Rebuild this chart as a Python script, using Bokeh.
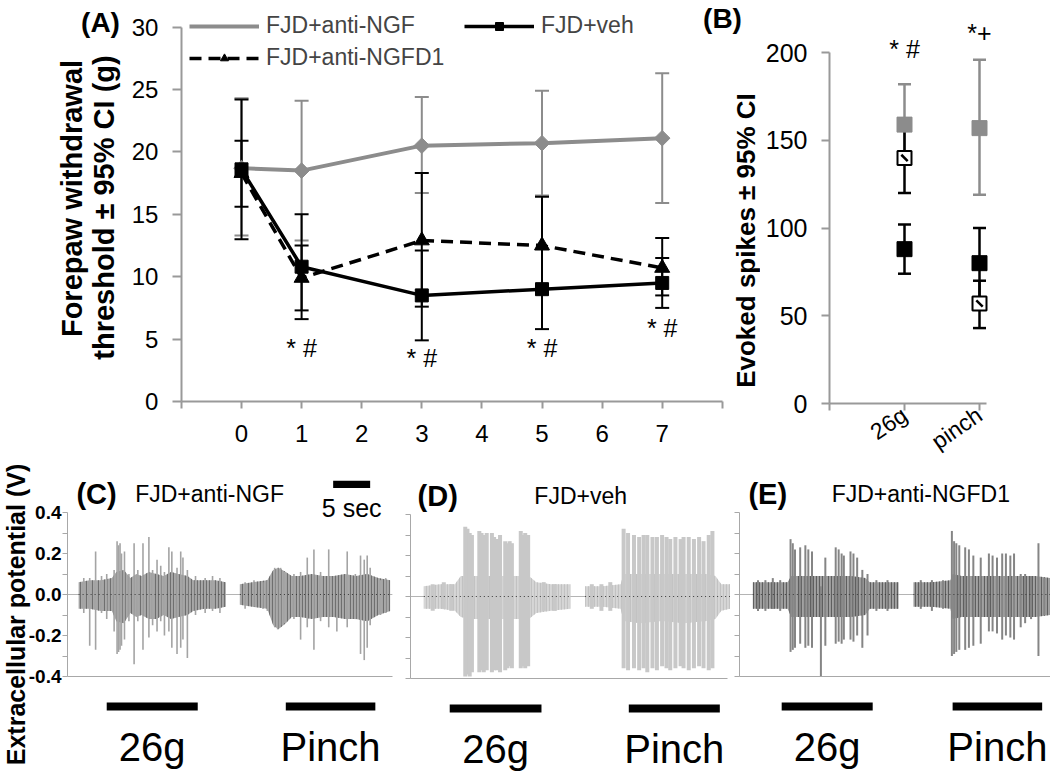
import math
from bokeh.plotting import figure
from bokeh.models import (ColumnDataSource, Whisker, TeeHead, Legend, LegendItem,
                          FixedTicker, Range1d, NumeralTickFormatter)
from bokeh.layouts import column, row
from bokeh.embed import file_html
from bokeh.resources import INLINE
from bokeh.core.properties import value

FONT = "Liberation Sans"
GRAY = "#8c8c8c"
AXC = "#999999"

# ---------------- Panel A data ----------------
days = [0, 1, 3, 5, 7]
ngf_mean = [18.7, 18.5, 20.5, 20.7, 21.1]
ngf_lo = [13.3, 12.9, 16.7, 16.5, 15.9]
ngf_hi = [24.3, 24.1, 24.4, 24.9, 26.3]
veh_mean = [18.6, 10.8, 8.5, 9.0, 9.5]
veh_lo = [13.0, 6.6, 4.9, 5.8, 7.5]
veh_hi = [24.2, 15.0, 12.1, 12.2, 11.5]
d1_mean = [18.3, 9.9, 12.9, 12.5, 10.7]
d1_lo = [15.6, 7.3, 7.6, 8.6, 8.5]
d1_hi = [20.9, 12.5, 18.3, 16.4, 13.1]
a_sig_x = [1, 3, 5, 7]
a_sig_y = [4.3, 3.5, 4.3, 5.9]
a_sig_text = ["* #", "* #", "* #", "* #"]
a_xticks = [0, 1, 2, 3, 4, 5, 6, 7]
a_xlabels = ["0", "1", "2", "3", "4", "5", "6", "7"]
a_xedge_ticks = [-1, 8]
a_yticks = [0, 5, 10, 15, 20, 25, 30]

# ---------------- Panel B data ----------------
b_cats = ["26g", "pinch"]
b_x = [1, 2]
b_ngf = [159, 157]
b_ngf_lo = [137, 119]
b_ngf_hi = [182, 196]
b_veh = [88, 80]
b_veh_lo = [74, 60]
b_veh_hi = [102, 100]
b_d1 = [140, 57]
b_d1_lo = [120, 43]
b_d1_hi = [160, 70]
b_sig_text = ["* #", "*+"]
b_sig_y = [202, 211]
b_yticks = [0, 50, 100, 150, 200]

# ---------------- Panels C-E traces (time s, potential V) ----------------
c26_env_t = [1.5, 3.0, 4.5, 6.0, 6.6, 7.6, 8.5, 9.3, 10.0, 11.0, 12.0, 13.0, 14.0, 15.0, 16.2, 17.0, 18.5, 20.0, 21.4]
c26_env_hi = [0.06, 0.07, 0.07, 0.08, 0.11, 0.12, 0.08, 0.10, 0.09, 0.11, 0.10, 0.09, 0.11, 0.10, 0.09, 0.07, 0.07, 0.07, 0.06]
c26_env_lo = [-0.07, -0.07, -0.08, -0.08, -0.13, -0.14, -0.09, -0.11, -0.10, -0.12, -0.12, -0.10, -0.12, -0.11, -0.10, -0.08, -0.07, -0.07, -0.06]
c26_sp_t = [2.2, 3.0, 3.8, 4.6, 5.3, 6.3, 6.7, 6.9, 7.1, 7.3, 7.7, 8.3, 9.0, 9.5, 10.2, 11.0, 11.5, 12.1, 12.6, 13.1, 13.7, 14.1, 14.8, 15.3, 15.6, 16.2, 17.3, 18.6, 19.6, 20.6]
c26_sp_hi = [0.08, 0.08, 0.21, 0.09, 0.10, 0.12, 0.26, 0.24, 0.25, 0.20, 0.21, 0.10, 0.25, 0.12, 0.25, 0.28, 0.12, 0.17, 0.14, 0.11, 0.23, 0.21, 0.13, 0.21, 0.18, 0.12, 0.09, 0.08, 0.09, 0.08]
c26_sp_lo = [-0.09, -0.25, -0.27, -0.09, -0.12, -0.18, -0.29, -0.28, -0.27, -0.25, -0.22, -0.13, -0.34, -0.13, -0.27, -0.21, -0.15, -0.18, -0.13, -0.20, -0.18, -0.26, -0.29, -0.26, -0.22, -0.31, -0.10, -0.09, -0.08, -0.09]

cp_env_t = [23.3, 25.0, 27.0, 27.8, 28.5, 29.5, 30.3, 31.5, 33.0, 34.5, 36.0, 37.5, 39.0, 40.5, 42.0, 43.6]
cp_env_hi = [0.05, 0.06, 0.07, 0.12, 0.13, 0.11, 0.09, 0.09, 0.10, 0.09, 0.09, 0.10, 0.09, 0.10, 0.08, 0.07]
cp_env_lo = [-0.05, -0.06, -0.07, -0.15, -0.17, -0.14, -0.11, -0.11, -0.12, -0.11, -0.11, -0.12, -0.12, -0.13, -0.10, -0.08]
cp_sp_t = [24.0, 25.2, 26.4, 27.0, 28.0, 28.4, 28.8, 29.3, 30.6, 31.5, 32.4, 33.3, 34.2, 35.3, 36.4, 37.8, 38.9, 39.6, 40.1, 40.5, 40.9, 42.3, 43.0]
cp_sp_hi = [0.06, 0.07, 0.06, 0.07, 0.13, 0.13, 0.13, 0.11, 0.10, 0.11, 0.18, 0.22, 0.11, 0.22, 0.09, 0.21, 0.10, 0.19, 0.17, 0.19, 0.13, 0.07, 0.08]
cp_sp_lo = [-0.07, -0.06, -0.07, -0.08, -0.16, -0.17, -0.15, -0.14, -0.12, -0.22, -0.16, -0.27, -0.13, -0.16, -0.18, -0.16, -0.12, -0.29, -0.32, -0.26, -0.15, -0.10, -0.09]

d26_env_t = [1.8, 4.0, 6.0, 6.8, 8.0, 10.0, 12.0, 14.0, 16.0, 17.0, 19.0, 21.6]
d26_env_hi = [0.05, 0.06, 0.06, 0.10, 0.10, 0.10, 0.10, 0.10, 0.10, 0.07, 0.06, 0.06]
d26_env_lo = [-0.06, -0.06, -0.07, -0.10, -0.11, -0.11, -0.11, -0.11, -0.11, -0.08, -0.07, -0.06]
d26_sp_t = [3.0, 4.5, 5.5, 7.4, 7.7, 8.0, 8.3, 9.3, 9.6, 9.9, 10.3, 11.0, 11.3, 11.7, 12.1, 12.8, 13.1, 13.4, 13.7, 14.9, 15.2, 15.5, 15.9, 18.0, 19.5]
d26_sp_hi = [0.06, 0.07, 0.06, 0.34, 0.33, 0.31, 0.30, 0.32, 0.31, 0.30, 0.31, 0.31, 0.29, 0.28, 0.30, 0.27, 0.26, 0.27, 0.26, 0.32, 0.30, 0.31, 0.30, 0.07, 0.06]
d26_sp_lo = [-0.07, -0.06, -0.07, -0.39, -0.38, -0.39, -0.37, -0.37, -0.36, -0.37, -0.36, -0.37, -0.36, -0.36, -0.37, -0.36, -0.35, -0.34, -0.35, -0.35, -0.34, -0.35, -0.34, -0.07, -0.07]

dp_env_t = [23.6, 26.0, 28.4, 28.8, 31.0, 34.0, 37.0, 40.0, 41.2, 42.0, 43.2]
dp_env_hi = [0.05, 0.05, 0.06, 0.11, 0.11, 0.11, 0.11, 0.11, 0.10, 0.06, 0.06]
dp_env_lo = [-0.05, -0.05, -0.06, -0.12, -0.13, -0.12, -0.13, -0.12, -0.11, -0.07, -0.06]
dp_sp_t = [24.5, 25.8, 27.0, 28.8, 29.4, 30.2, 30.9, 31.5, 32.0, 32.7, 33.3, 34.0, 34.6, 35.1, 35.8, 36.5, 36.9, 37.6, 38.3, 39.0, 39.6, 40.3, 40.8]
dp_sp_hi = [0.06, 0.06, 0.07, 0.33, 0.31, 0.30, 0.29, 0.30, 0.30, 0.29, 0.29, 0.30, 0.29, 0.28, 0.29, 0.28, 0.29, 0.29, 0.28, 0.29, 0.27, 0.30, 0.32]
dp_sp_lo = [-0.06, -0.07, -0.07, -0.35, -0.36, -0.35, -0.36, -0.35, -0.37, -0.35, -0.36, -0.34, -0.35, -0.36, -0.35, -0.34, -0.35, -0.36, -0.35, -0.34, -0.35, -0.36, -0.35]

e26_env_t = [1.8, 4.0, 6.5, 7.0, 9.0, 11.0, 13.0, 15.0, 17.0, 17.6, 19.5, 21.5]
e26_env_hi = [0.06, 0.06, 0.06, 0.09, 0.09, 0.09, 0.09, 0.09, 0.08, 0.06, 0.06, 0.06]
e26_env_lo = [-0.07, -0.07, -0.07, -0.11, -0.11, -0.11, -0.11, -0.11, -0.10, -0.07, -0.07, -0.07]
e26_sp_t = [2.5, 3.5, 4.5, 5.5, 6.9, 7.2, 7.5, 8.2, 8.9, 9.3, 9.8, 11.0, 11.6, 13.0, 13.4, 13.8, 14.1, 15.0, 15.4, 15.9, 16.6, 17.3, 18.5, 20.0]
e26_sp_hi = [0.07, 0.07, 0.08, 0.07, 0.27, 0.25, 0.22, 0.23, 0.24, 0.22, 0.21, 0.04, 0.18, 0.23, 0.22, 0.20, 0.19, 0.21, 0.20, 0.18, 0.12, 0.10, 0.07, 0.07]
e26_sp_lo = [-0.08, -0.08, -0.07, -0.08, -0.28, -0.27, -0.26, -0.24, -0.26, -0.25, -0.26, -0.40, -0.25, -0.24, -0.23, -0.24, -0.22, -0.22, -0.23, -0.20, -0.26, -0.20, -0.08, -0.08]

ep_env_t = [23.5, 26.0, 28.5, 28.8, 30.0, 32.0, 34.0, 36.0, 38.0, 40.0, 42.0]
ep_env_hi = [0.06, 0.06, 0.07, 0.10, 0.09, 0.09, 0.09, 0.09, 0.09, 0.09, 0.08]
ep_env_lo = [-0.06, -0.06, -0.07, -0.12, -0.11, -0.11, -0.11, -0.11, -0.11, -0.11, -0.10]
ep_sp_t = [24.5, 26.0, 27.5, 28.7, 29.0, 29.3, 29.7, 30.5, 31.0, 31.6, 32.6, 33.7, 34.2, 34.8, 35.5, 36.0, 36.6, 37.1, 38.0, 38.6, 39.4, 40.4, 41.2]
ep_sp_hi = [0.07, 0.07, 0.07, 0.31, 0.26, 0.25, 0.24, 0.23, 0.22, 0.19, 0.18, 0.20, 0.19, 0.18, 0.20, 0.20, 0.19, 0.20, 0.10, 0.10, 0.09, 0.25, 0.08]
ep_sp_lo = [-0.07, -0.08, -0.07, -0.30, -0.29, -0.28, -0.27, -0.27, -0.26, -0.25, -0.24, -0.18, -0.18, -0.19, -0.22, -0.20, -0.21, -0.22, -0.16, -0.14, -0.12, -0.30, -0.10]

stim_labels = ["26g", "Pinch"]
c_stim_start = [5.3, 29.5]
c_stim_end = [17.6, 41.6]
d_stim_start = [5.3, 29.5]
d_stim_end = [17.7, 41.8]
e_stim_start = [5.7, 28.8]
e_stim_end = [18.0, 40.9]
scale_bar_start = [35.9]
scale_bar_end = [40.9]
scale_bar_text = ["5 sec"]
trace_yticks = [-0.4, -0.2, 0.0, 0.2, 0.4]
trace_yminor = [-0.3, -0.1, 0.1, 0.3]


# ---------------- helpers ----------------
def full_frame_fig(width, height, left_px, top_px, x0_px, x_scale, y0_px, y_scale):
    """Figure whose plot frame fills its canvas; ranges chosen from the page geometry."""
    xr = Range1d((left_px - x0_px) / x_scale, (left_px + width - x0_px) / x_scale)
    yr = Range1d((y0_px - (top_px + height)) / y_scale, (y0_px - top_px) / y_scale)
    p = figure(width=width, height=height, x_range=xr, y_range=yr, output_backend="svg",
               toolbar_location=None, title=None, min_border=0, min_border_left=0,
               min_border_right=0, min_border_top=0, min_border_bottom=0)
    p.grid.visible = False
    p.outline_line_color = None
    return p


def style_ax(ax, size, tick_out):
    ax.axis_line_color = AXC
    ax.axis_line_width = 2
    ax.major_tick_line_color = AXC
    ax.major_tick_line_width = 2
    ax.minor_tick_line_color = AXC
    ax.minor_tick_line_width = 2
    ax.major_tick_in = 0
    ax.minor_tick_in = 0
    ax.major_tick_out = tick_out
    ax.minor_tick_out = tick_out
    ax.major_label_text_font = FONT
    ax.major_label_text_font_size = size
    ax.major_label_text_color = "black"


def add_whisker(p, xs, lo, hi, color, width, head):
    src = ColumnDataSource(dict(x=xs, lo=lo, hi=hi))
    w = Whisker(base="x", lower="lo", upper="hi", source=src, line_color=color, line_width=width,
                upper_head=TeeHead(size=head, line_color=color, line_width=width),
                lower_head=TeeHead(size=head, line_color=color, line_width=width))
    p.add_layout(w)


def txt(p, x, y, s, size, bold=False, angle=0.0, align="center", baseline="middle"):
    p.text(x=[x], y=[y], text=[s], text_font=value(FONT), text_font_size=size,
           text_font_style="bold" if bold else "normal", angle=angle,
           text_align=align, text_baseline=baseline, text_color="black")


# ====================== Panel A ======================
AX0, AXS, AY0, AYS = 241.0, 60.1, 401.0, 12.48
pA = full_frame_fig(760, 458, 0, 0, AX0, AXS, AY0, AYS)
style_ax(pA.xaxis[0], "24px", 7)
style_ax(pA.yaxis[0], "24px", 9)
pA.yaxis.fixed_location = -1
pA.yaxis.ticker = FixedTicker(ticks=a_yticks, minor_ticks=[])
pA.yaxis.bounds = (0, 30)
pA.yaxis.major_label_standoff = 14
pA.xaxis.fixed_location = 0
pA.xaxis.bounds = (-1, 8)
pA.xaxis.ticker = FixedTicker(ticks=a_xticks, minor_ticks=a_xedge_ticks)
pA.xaxis.major_label_overrides = {t: l for t, l in zip(a_xticks, a_xlabels)}
pA.xaxis.major_label_standoff = 16

add_whisker(pA, days, ngf_lo, ngf_hi, GRAY, 2, 14)
add_whisker(pA, days, d1_lo, d1_hi, "black", 2, 14)
add_whisker(pA, days, veh_lo, veh_hi, "black", 2, 14)

l_ngf = pA.line(days, ngf_mean, line_color=GRAY, line_width=4)
pA.scatter(days, ngf_mean, marker="square", angle=math.pi / 4, size=11, fill_color=GRAY, line_color=GRAY)
m_ngf_leg = pA.scatter(x=[], y=[], marker="diamond", size=18, fill_color=GRAY, line_color=GRAY)
l_d1 = pA.line(days, d1_mean, line_color="black", line_width=3.5, line_dash="12 7")
m_d1 = pA.scatter(days, d1_mean, marker="triangle", size=15, fill_color="black", line_color="black")
l_veh = pA.line(days, veh_mean, line_color="black", line_width=3.5)
m_veh = pA.scatter(days, veh_mean, marker="square", size=13, fill_color="black", line_color="black")

pA.text(x=a_sig_x, y=a_sig_y, text=a_sig_text, text_font=value(FONT), text_font_size="25px",
        text_align="center", text_baseline="middle", text_color="black")

leg_common = dict(label_text_font=FONT, label_text_font_size="23px", glyph_width=70, glyph_height=20,
                  label_standoff=7, spacing=0, padding=0, margin=0, border_line_color=None,
                  background_fill_alpha=0, label_height=20, orientation="horizontal")
leg1 = Legend(items=[LegendItem(label="FJD+anti-NGF", renderers=[l_ngf, m_ngf_leg]),
                     LegendItem(label="FJD+veh", renderers=[l_veh, m_veh])],
              location=(189, 419), label_width=198, **leg_common)
leg2 = Legend(items=[LegendItem(label="FJD+anti-NGFD1", renderers=[l_d1, m_d1])],
              location=(189, 387), **leg_common)
pA.add_layout(leg1)
pA.add_layout(leg2)

txt(pA, (100 - AX0) / AXS, (AY0 - 22) / AYS, "(A)", "28px", bold=True)
txt(pA, (71 - AX0) / AXS, (AY0 - 198) / AYS, "Forepaw withdrawal", "29px", bold=True, angle=math.pi / 2)
txt(pA, (103 - AX0) / AXS, (AY0 - 207) / AYS, "threshold ± 95% CI (g)", "29px", bold=True, angle=math.pi / 2)
# panel B label and axis title (drawn where they sit on the page, left of panel B's canvas)
txt(pA, (722 - AX0) / AXS, (AY0 - 18) / AYS, "(B)", "28px", bold=True)
txt(pA, (745 - AX0) / AXS, (AY0 - 240) / AYS, "Evoked spikes ± 95% CI", "26px", bold=True, angle=math.pi / 2)

# ====================== Panel B ======================
BX0, BXS, BY0, BYS = 829.0, 75.0, 403.0, 1.754
pB = full_frame_fig(290, 458, 760, 0, BX0, BXS, BY0, BYS)
style_ax(pB.xaxis[0], "23px", 7)
style_ax(pB.yaxis[0], "25px", 8)
pB.yaxis.fixed_location = 0
pB.yaxis.ticker = FixedTicker(ticks=b_yticks, minor_ticks=[])
pB.yaxis.bounds = (0, 200)
pB.yaxis.major_label_standoff = 14
pB.xaxis.fixed_location = 0
pB.xaxis.bounds = (0, 2.09)
pB.xaxis.ticker = FixedTicker(ticks=b_x, minor_ticks=[0])
pB.xaxis.major_label_overrides = dict(zip(b_x, b_cats))
pB.xaxis.major_label_standoff = 2
pB.xaxis.major_label_orientation = 0.6

add_whisker(pB, b_x, b_ngf_lo, b_ngf_hi, GRAY, 2.5, 13)
add_whisker(pB, b_x, b_veh_lo, b_veh_hi, "black", 2.5, 13)
add_whisker(pB, b_x, b_d1_lo, b_d1_hi, "black", 2.5, 13)
pB.scatter(b_x, b_ngf, marker="square", size=15, fill_color=GRAY, line_color=GRAY)
pB.scatter(b_x, b_veh, marker="square", size=15, fill_color="black", line_color="black")
pB.scatter(b_x, b_d1, marker="square", size=14, fill_color="white", line_color="black", line_width=2)
pB.scatter(b_x, b_d1, marker="dash", size=9, angle=-math.pi / 4, line_color="black", line_width=2.5)
pB.text(x=b_x, y=b_sig_y, text=b_sig_text, text_font=value(FONT), text_font_size="25px",
        text_align="center", text_baseline="middle", text_color="black")


# ====================== Panels C-E ======================
TXS, TYS = 7.4, 205.0


def trace_fig(width, left_px, axis_px, zero_px, axis_end, labels):
    p = full_frame_fig(width, 317, left_px, 458, axis_px, TXS, zero_px, TYS)
    ax = p.yaxis[0]
    ax.fixed_location = 0
    if labels:
        ax.ticker = FixedTicker(ticks=trace_yticks, minor_ticks=trace_yminor)
    else:
        ax.ticker = FixedTicker(ticks=[], minor_ticks=trace_yticks + trace_yminor)
    ax.bounds = (-0.4, 0.4)
    ax.axis_line_color = "#a8a8a8"
    ax.axis_line_width = 1
    ax.major_tick_line_color = "#a8a8a8"
    ax.minor_tick_line_color = "#a8a8a8"
    ax.major_tick_in = 0
    ax.minor_tick_in = 0
    ax.major_tick_out = 5
    ax.minor_tick_out = 5
    ax.formatter = NumeralTickFormatter(format="0.0")
    ax.major_label_text_font = FONT
    ax.major_label_text_color = "black"
    ax.major_label_text_font_size = "19px"
    ax.major_label_text_font_style = "bold"
    ax.major_label_standoff = 1
    xa = p.xaxis[0]
    xa.fixed_location = -0.4
    xa.bounds = (0, axis_end)
    xa.ticker = FixedTicker(ticks=[], minor_ticks=[])
    xa.axis_line_color = "#a8a8a8"
    xa.axis_line_width = 1
    p.segment(x0=[0], y0=[0], x1=[axis_end], y1=[0], line_color="#b4b4b4", line_width=1)
    return p


def draw_trace(p, et, eh, el, st, sh, sl, fill, hatch, spike, sw):
    p.varea(x=et, y1=el, y2=eh, fill_color=fill, hatch_pattern="|", hatch_color=hatch,
            hatch_scale=3, hatch_weight=1.2)
    p.segment(x0=st, y0=sl, x1=st, y1=sh, line_color=spike, line_width=sw)
    p.line(x=[et[0], et[-1]], y=[0, 0], line_color="#3a3a3a", line_width=1, line_dash="1 3")


def draw_stim(p, starts, ends):
    p.hbar(y=[-0.546] * len(starts), left=starts, right=ends, height=0.039,
           fill_color="black", line_color=None)
    mids = [(a + b) / 2 for a, b in zip(starts, ends)]
    p.text(x=mids, y=[-0.745] * len(mids), text=stim_labels, text_font=value(FONT),
           text_font_size="40px", text_align="center", text_baseline="middle", text_color="black")


def header(p, letter_x, letter, name_x, name):
    txt(p, letter_x, 0.49, letter, "29px", bold=True, align="left")
    txt(p, name_x, 0.49, name, "23px")


pC = trace_fig(400, 0, 67, 594, 43.9, True)
draw_trace(pC, c26_env_t, c26_env_hi, c26_env_lo, c26_sp_t, c26_sp_hi, c26_sp_lo,
           "#a8a8a8", "#6f6f6f", "#a4a4a4", 1.6)
draw_trace(pC, cp_env_t, cp_env_hi, cp_env_lo, cp_sp_t, cp_sp_hi, cp_sp_lo,
           "#a8a8a8", "#6f6f6f", "#a4a4a4", 1.6)
draw_stim(pC, c_stim_start, c_stim_end)
header(pC, 1.2, "(C)", 19.2, "FJD+anti-NGF")
pC.hbar(y=[0.537], left=scale_bar_start, right=scale_bar_end, height=0.036, fill_color="black", line_color=None)
pC.text(x=[(scale_bar_start[0] + scale_bar_end[0]) / 2], y=[0.42], text=scale_bar_text, text_font=value(FONT),
        text_font_size="25px", text_align="center", text_baseline="middle", text_color="black")
txt(pC, (15 - 67) / TXS, (594 - 614) / TYS, "Extracellular potential (V)", "25px", bold=True, angle=math.pi / 2)

pD = trace_fig(330, 400, 410, 596, 42.8, False)
draw_trace(pD, d26_env_t, d26_env_hi, d26_env_lo, d26_sp_t, d26_sp_hi, d26_sp_lo,
           "#d6d6d6", "#c2c2c2", "#c8c8c8", 4)
draw_trace(pD, dp_env_t, dp_env_hi, dp_env_lo, dp_sp_t, dp_sp_hi, dp_sp_lo,
           "#d6d6d6", "#c2c2c2", "#c8c8c8", 4)
draw_stim(pD, d_stim_start, d_stim_end)
header(pD, 0.95, "(D)", 23.0, "FJD+veh")

pE = trace_fig(320, 730, 739, 594, 42.0, False)
draw_trace(pE, e26_env_t, e26_env_hi, e26_env_lo, e26_sp_t, e26_sp_hi, e26_sp_lo,
           "#a2a2a2", "#5f5f5f", "#858585", 2)
draw_trace(pE, ep_env_t, ep_env_hi, ep_env_lo, ep_sp_t, ep_sp_hi, ep_sp_lo,
           "#a2a2a2", "#5f5f5f", "#858585", 2)
draw_stim(pE, e_stim_start, e_stim_end)
header(pE, 1.2, "(E)", 24.5, "FJD+anti-NGFD1")

layout = column(row(pA, pB), row(pC, pD, pE))
open("out.html", "w").write(file_html(layout, INLINE))
